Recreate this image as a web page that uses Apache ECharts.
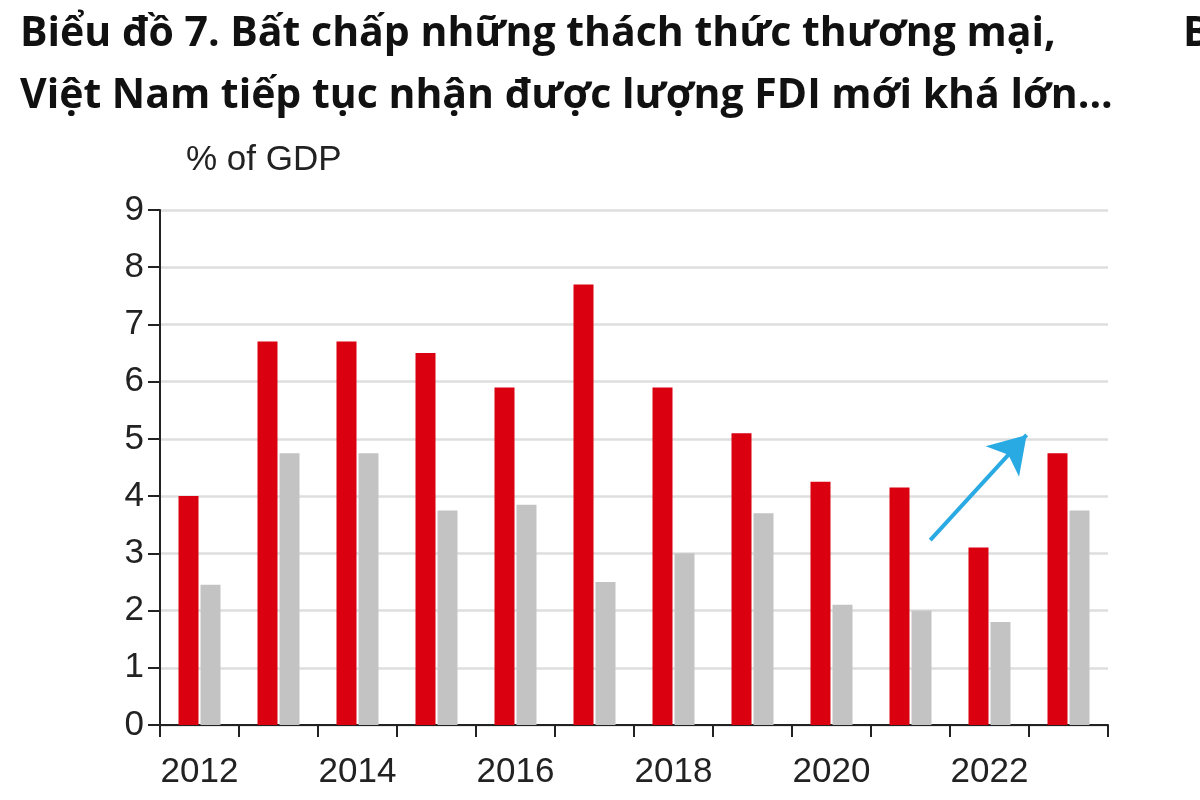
<!DOCTYPE html>
<html>
<head>
<meta charset="utf-8">
<script src="https://cdn.jsdelivr.net/npm/echarts@6/dist/echarts.min.js"></script>
<style>html,body{margin:0;padding:0;background:#fff}#c{width:1200px;height:800px}</style>
</head>
<body>
<div id="c"></div>
<script>
const categories = ['2012','2013','2014','2015','2016','2017','2018','2019','2020','2021','2022','2023'];
const redValues = [4.0, 6.7, 6.7, 6.5, 5.9, 7.7, 5.9, 5.1, 4.25, 4.15, 3.1, 4.75];
const grayValues = [2.45, 4.75, 4.75, 3.75, 3.85, 2.5, 3.0, 3.7, 2.1, 2.0, 1.8, 3.75];
const yTicks = [0,1,2,3,4,5,6,7,8,9];
const arrowFrom = [9.75, 3.23];
const arrowTo = [10.97, 5.07];

const chart = echarts.init(document.getElementById('c'));
const numFont = '"Liberation Sans", Arial, sans-serif';
const titleFont = '"Open Sans", Lato, sans-serif';
chart.setOption({
  animation: false,
  backgroundColor: '#fff',
  title: [
    {
      text: 'Biểu đồ 7. Bất chấp những thách thức thương mại,\nViệt Nam tiếp tục nhận được lượng FDI mới khá lớn...',
      left: 15, top: -2,
      textStyle: {fontFamily: titleFont, fontWeight: 'bold', fontSize: 41, lineHeight: 62, color: '#111'}
    },
    {
      text: 'B', left: 1178, top: -2,
      textStyle: {fontFamily: titleFont, fontWeight: 'bold', fontSize: 41, lineHeight: 62, color: '#111'}
    },
    {
      text: '% of GDP', left: 181, top: 138,
      textStyle: {fontFamily: numFont, fontWeight: 'normal', fontSize: 35, color: '#222'}
    }
  ],
  grid: {left: 160, right: 92, top: 210, bottom: 75, containLabel: false},
  xAxis: [
    {
      type: 'category', data: categories,
      axisLine: {lineStyle: {color: '#222', width: 2}},
      axisTick: {show: true, interval: 0, length: 12, lineStyle: {color: '#222', width: 2}},
      axisLabel: {interval: 1, fontFamily: numFont, fontSize: 35, color: '#222', margin: 30},
      splitLine: {show: false}
    },
    {
      type: 'value', min: 0, max: 12, show: false
    }
  ],
  yAxis: {
    type: 'value', min: 0, max: 9, interval: 1,
    axisLine: {show: true, lineStyle: {color: '#222', width: 2}},
    axisTick: {show: true, length: 12, lineStyle: {color: '#222', width: 2}},
    axisLabel: {fontFamily: numFont, fontSize: 35, color: '#222', margin: 16,
      formatter: v => yTicks.includes(v) ? String(v) : ''},
    splitLine: {show: true, lineStyle: {color: '#dedede', width: 2.5}}
  },
  series: [
    {type: 'bar', data: redValues, barWidth: 20, barGap: '10%', itemStyle: {color: '#da000f'}, z: 3},
    {type: 'bar', data: grayValues, barWidth: 20, barGap: '10%', itemStyle: {color: '#c3c3c3'}, z: 3},
    {
      type: 'line', xAxisIndex: 1, data: [], symbol: 'none', silent: true,
      markLine: {
        silent: true, symbol: ['none', 'arrow'], symbolSize: [34, 36], label: {show: false},
        lineStyle: {color: '#2aaae2', width: 4, type: 'solid'},
        data: [[{coord: arrowFrom}, {coord: arrowTo}]]
      }
    }
  ]
});
</script>
</body>
</html>
